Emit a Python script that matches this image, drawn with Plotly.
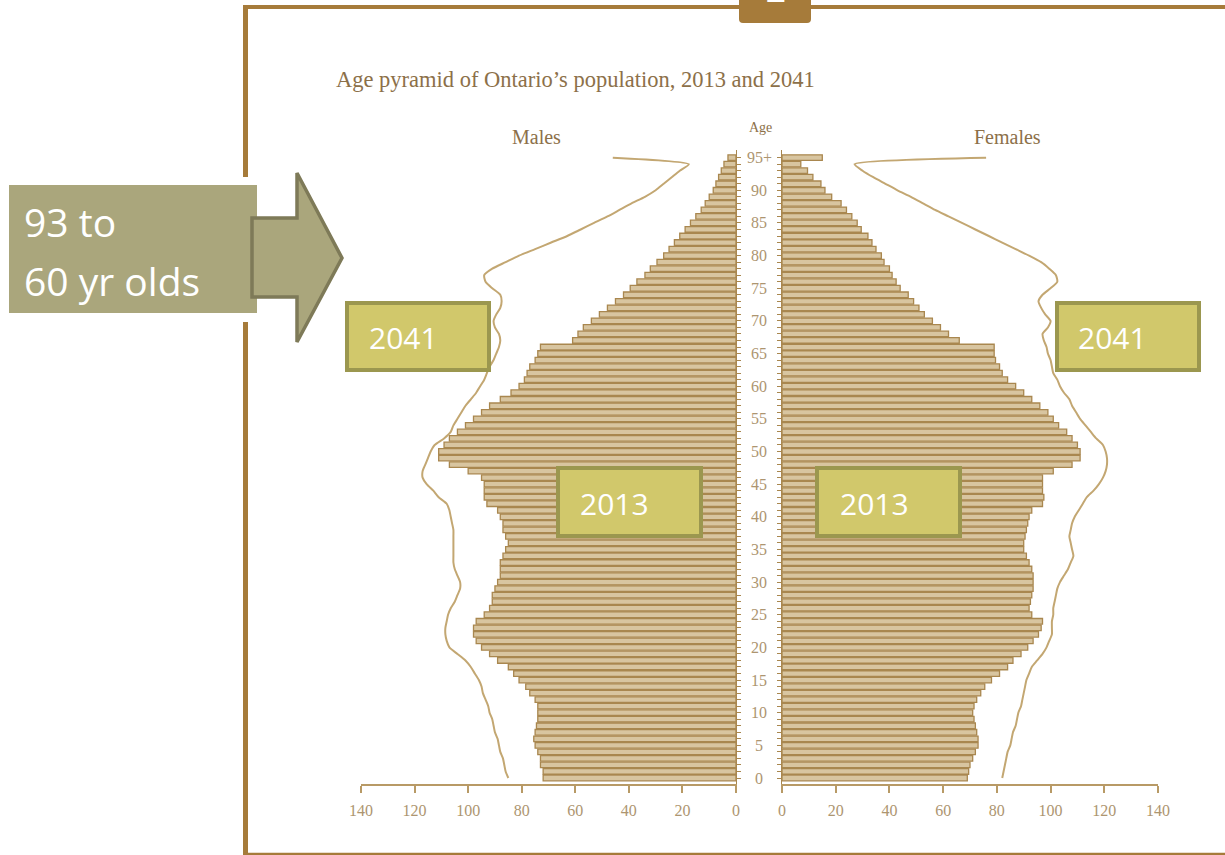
import plotly.graph_objects as go

# ---------------- data ----------------
ages = list(range(96))  # 95 = "95+"
age_tick_vals = [0, 5, 10, 15, 20, 25, 30, 35, 40, 45, 50, 55, 60, 65, 70, 75, 80, 85, 90, 95]
age_tick_labels = ["0", "5", "10", "15", "20", "25", "30", "35", "40", "45", "50",
                   "55", "60", "65", "70", "75", "80", "85", "90", "95+"]
x_tick_vals = [0, 20, 40, 60, 80, 100, 120, 140]
x_tick_labels = ["0", "20", "40", "60", "80", "100", "120", "140"]

males_2013 = [72, 72, 73, 73, 74, 75, 75.5, 75, 74.5, 74,
              74, 74, 75, 77, 78.5, 81, 83, 85, 89, 92,
              95, 97, 98, 98, 97, 94, 92, 91, 91, 90,
              89, 88, 88, 88, 87, 86, 85, 86, 87, 87,
              88, 89, 93, 94, 94, 94, 95, 100, 107, 111,
              111, 109, 107, 104, 101, 98, 95, 92, 88, 84,
              81, 79, 78, 77, 75, 74, 73, 61, 59, 57,
              54, 51, 48, 45, 42, 39.5, 37, 34, 32, 29.5,
              27, 25, 23, 21, 19, 17, 15, 13, 11.5, 10,
              8.5, 7.5, 6.5, 5.5, 4.5, 3]

females_2013 = [69, 69.5, 70, 71, 72, 73, 73, 72.5, 72, 71.5,
                71, 71.5, 72.5, 74, 75.5, 78, 81, 84, 86, 89,
                91.5, 93.5, 95.5, 96.5, 97, 93, 92, 92.5, 93, 93.5,
                93.5, 93.5, 93, 92, 91, 90, 90, 90.5, 91, 91.5,
                92, 93, 97, 97.5, 97, 97, 97, 101, 108, 111,
                111, 110, 108, 106, 103, 101, 99, 96, 93, 90,
                87, 84, 82, 81, 79.5, 79, 79, 66, 62, 59,
                56, 53, 51, 49, 47, 44, 42.5, 41, 40, 38,
                37, 35, 33.5, 32, 29.5, 28, 26, 24, 22, 18.5,
                16, 14.5, 11.5, 9.5, 7, 15]

males_2041 = [85, 86, 86.5, 87, 88, 88.5, 89, 90, 90.5, 91,
              92, 92.5, 93.5, 94.5, 95, 96, 97.5, 99, 101, 104,
              107, 108, 108.5, 108.5, 108, 107.5, 106.5, 105, 104, 103,
              103, 104, 105, 105.5, 105.5, 105.5, 105.5, 105.5, 105.5, 106,
              106.5, 107, 108, 111, 113, 115.5, 117, 117, 116, 115,
              114, 112.5, 109, 106.5, 105.5, 104, 102.5, 101, 99, 97,
              95.5, 94, 93, 92, 90.5, 89.5, 88.5, 88, 88.5, 90,
              90.5, 89.5, 88, 87.5, 88, 91, 93.5, 94, 91, 86,
              81, 75, 69, 63, 58, 53, 48, 43.5, 39, 34,
              30, 27, 24, 21, 17.6, 46]

females_2041 = [82, 82.5, 83, 83.5, 84, 85, 85.5, 86, 87, 87.5,
                88, 89, 89.5, 90, 90.5, 91, 92, 93, 95, 97,
                98.5, 99.5, 100.5, 100.5, 100.5, 101, 101, 101.5, 102, 102.5,
                103.5, 105, 106.5, 107.5, 108.5, 108, 107.5, 107, 107.5, 108,
                109, 110.5, 112, 113.5, 116, 118, 119.5, 120.5, 121, 121,
                120.5, 119.5, 117, 115, 113, 111, 109.5, 108, 107, 105,
                103.5, 102.5, 101, 100.5, 100, 99, 98.5, 97.5, 97, 99,
                100, 98, 96.5, 95.5, 97, 100, 102.5, 102, 99.5, 96.5,
                92, 87, 82, 77, 72, 67, 62, 57, 52.5, 48,
                43, 38.5, 34, 30, 27, 76]

# ---------------- style ----------------
W, H = 1225, 855
BAR_FILL = "#d8c5a0"
BAR_EDGE = "#a9874f"
LINE_2041 = "#c3a772"
AXIS_COL = "#b89a66"
TEXT_COL = "#8c7049"
LABEL_COL = "#ad9570"
FRAME = "#a67b3a"
SERIF = "Liberation Serif"
SANS = "Open Sans"


def px(x):
    return x / W


def py(y):
    return 1 - y / H


fig = go.Figure()

fig.add_trace(go.Bar(x=males_2013, y=ages, orientation="h", xaxis="x", yaxis="y",
                     marker=dict(color=BAR_FILL, line=dict(color=BAR_EDGE, width=1.3)),
                     width=0.85, showlegend=False, hoverinfo="skip"))
fig.add_trace(go.Bar(x=females_2013, y=ages, orientation="h", xaxis="x2", yaxis="y2",
                     marker=dict(color=BAR_FILL, line=dict(color=BAR_EDGE, width=1.3)),
                     width=0.85, showlegend=False, hoverinfo="skip"))
fig.add_trace(go.Scatter(x=males_2041, y=ages, mode="lines", xaxis="x", yaxis="y",
                         line=dict(color=LINE_2041, width=2, shape="spline", smoothing=0.6),
                         showlegend=False, hoverinfo="skip", cliponaxis=False))
fig.add_trace(go.Scatter(x=females_2041, y=ages, mode="lines", xaxis="x2", yaxis="y2",
                         line=dict(color=LINE_2041, width=2, shape="spline", smoothing=0.6),
                         showlegend=False, hoverinfo="skip", cliponaxis=False))

y_bottom, y_top = 784, 150
age_per_px = 1 / 6.53
yr = [0 - (y_bottom - 778) * age_per_px, 0 + (778 - y_top) * age_per_px]

xaxis_common = dict(showgrid=False, zeroline=False, showline=True, linecolor=AXIS_COL,
                    linewidth=2, ticks="outside", ticklen=7, tickwidth=2, tickcolor=AXIS_COL,
                    tickvals=x_tick_vals, ticktext=x_tick_labels,
                    tickfont=dict(family=SERIF, size=16, color=LABEL_COL),
                    ticklabelstandoff=4, fixedrange=True, automargin=False)

yaxis_common = dict(showgrid=False, zeroline=False, showline=True, linecolor=BAR_EDGE, linewidth=1,
                    ticks="outside", ticklen=4, tickwidth=1, tickcolor=BAR_EDGE,
                    tickvals=ages, showticklabels=False, fixedrange=True, automargin=False,
                    domain=[py(y_bottom), py(y_top)], range=yr)

fig.update_layout(
    width=W, height=H, autosize=False,
    margin=dict(l=0, r=0, t=0, b=0, pad=0, autoexpand=False),
    paper_bgcolor="white", plot_bgcolor="rgba(0,0,0,0)",
    bargap=0.1,
    xaxis=dict(domain=[px(361), px(736)], range=[140, 0], anchor="y", **xaxis_common),
    xaxis2=dict(domain=[px(782), px(1158)], range=[0, 140], anchor="y2", **xaxis_common),
    yaxis=dict(anchor="x", side="right", **yaxis_common),
    yaxis2=dict(anchor="x2", side="left", matches="y", **yaxis_common),
)

annotations = []
# age labels in the middle
for lab, val in zip(age_tick_labels, age_tick_vals):
    annotations.append(dict(x=px(759), y=val, xref="paper", yref="y", text=lab,
                            showarrow=False, xanchor="center", yanchor="middle",
                            font=dict(family=SERIF, size=16, color=LABEL_COL)))

annotations += [
    dict(x=px(334), y=py(79), xref="paper", yref="paper",
         text="Age pyramid of Ontario’s population, 2013 and 2041",
         showarrow=False, xanchor="left", yanchor="middle",
         font=dict(family=SERIF, size=22.5, color=TEXT_COL)),
    dict(x=px(536), y=py(137), xref="paper", yref="paper", text="Males", showarrow=False,
         xanchor="center", yanchor="middle",
         font=dict(family=SERIF, size=20, color=TEXT_COL)),
    dict(x=px(1007), y=py(137), xref="paper", yref="paper", text="Females", showarrow=False,
         xanchor="center", yanchor="middle",
         font=dict(family=SERIF, size=20, color=TEXT_COL)),
    dict(x=px(760), y=py(128), xref="paper", yref="paper", text="Age", showarrow=False,
         xanchor="center", yanchor="middle",
         font=dict(family=SERIF, size=14, color=TEXT_COL)),
]

# ---------------- decorations ----------------
shapes = []
# frame
shapes.append(dict(type="line", xref="paper", yref="paper", x0=px(243), x1=px(1230),
                   y0=py(7), y1=py(7), line=dict(color=FRAME, width=4), layer="above"))
shapes.append(dict(type="line", xref="paper", yref="paper", x0=px(245.5), x1=px(245.5),
                   y0=py(5), y1=py(177), line=dict(color=FRAME, width=5), layer="above"))
shapes.append(dict(type="line", xref="paper", yref="paper", x0=px(245.5), x1=px(245.5),
                   y0=py(322), y1=py(860), line=dict(color=FRAME, width=5), layer="above"))
shapes.append(dict(type="line", xref="paper", yref="paper", x0=px(243), x1=px(1230),
                   y0=py(854), y1=py(854), line=dict(color=FRAME, width=2.5), layer="above"))
# top tab
tab_path = (f"M {px(739)},{py(-2)} L {px(811)},{py(-2)} L {px(811)},{py(19)} "
            f"Q {px(811)},{py(23)} {px(807)},{py(23)} L {px(743)},{py(23)} "
            f"Q {px(739)},{py(23)} {px(739)},{py(19)} Z")
shapes.append(dict(type="path", xref="paper", yref="paper", path=tab_path,
                   fillcolor=FRAME, line=dict(width=0), layer="above"))

# callout box and arrow
CALL_FILL = "#aaa67c"
CALL_EDGE = "#7e7a58"
shapes.append(dict(type="rect", xref="paper", yref="paper", x0=px(9), x1=px(257),
                   y0=py(313), y1=py(185), fillcolor=CALL_FILL, line=dict(width=0), layer="above"))
pts = [(252, 218), (297, 218), (297, 173), (342, 258), (297, 342), (297, 297), (252, 297)]
arrow_path = "M " + " L ".join(f"{px(a)},{py(b)}" for a, b in pts) + " Z"
shapes.append(dict(type="path", xref="paper", yref="paper", path=arrow_path,
                   fillcolor=CALL_FILL, line=dict(color=CALL_EDGE, width=3.5), layer="above"))

# year boxes
BOX_FILL = "#d1c86b"
BOX_EDGE = "#9b974f"
year_boxes = [(347, 489, 303, 370, "2041", 369),
              (1057, 1199, 303, 370, "2041", 1078),
              (558, 701, 468, 536, "2013", 580),
              (817, 960, 468, 536, "2013", 840)]
for x0, x1, y0, y1, lab, tx in year_boxes:
    shapes.append(dict(type="rect", xref="paper", yref="paper", x0=px(x0), x1=px(x1),
                       y0=py(y1), y1=py(y0), fillcolor=BOX_FILL,
                       line=dict(color=BOX_EDGE, width=4), layer="above"))
    annotations.append(dict(x=px(tx - 2), y=py((y0 + y1) / 2 + 1), xref="paper", yref="paper",
                            text=lab, showarrow=False, xanchor="left", yanchor="middle",
                            font=dict(family=SANS, size=30, color="white")))

annotations += [
    dict(x=px(22), y=py(222), xref="paper", yref="paper", text="93 to", showarrow=False,
         xanchor="left", yanchor="middle", font=dict(family=SANS, size=39, color="white")),
    dict(x=px(22), y=py(280), xref="paper", yref="paper", text="60 yr olds", showarrow=False,
         xanchor="left", yanchor="middle", font=dict(family=SANS, size=39, color="white")),
    dict(x=px(775), y=py(14), xref="paper", yref="paper", text="<b>2</b>", showarrow=False,
         xanchor="center", yanchor="bottom", font=dict(family=SANS, size=34, color="white")),
]

fig.update_layout(shapes=shapes, annotations=annotations)
fig.write_html("out.html")
